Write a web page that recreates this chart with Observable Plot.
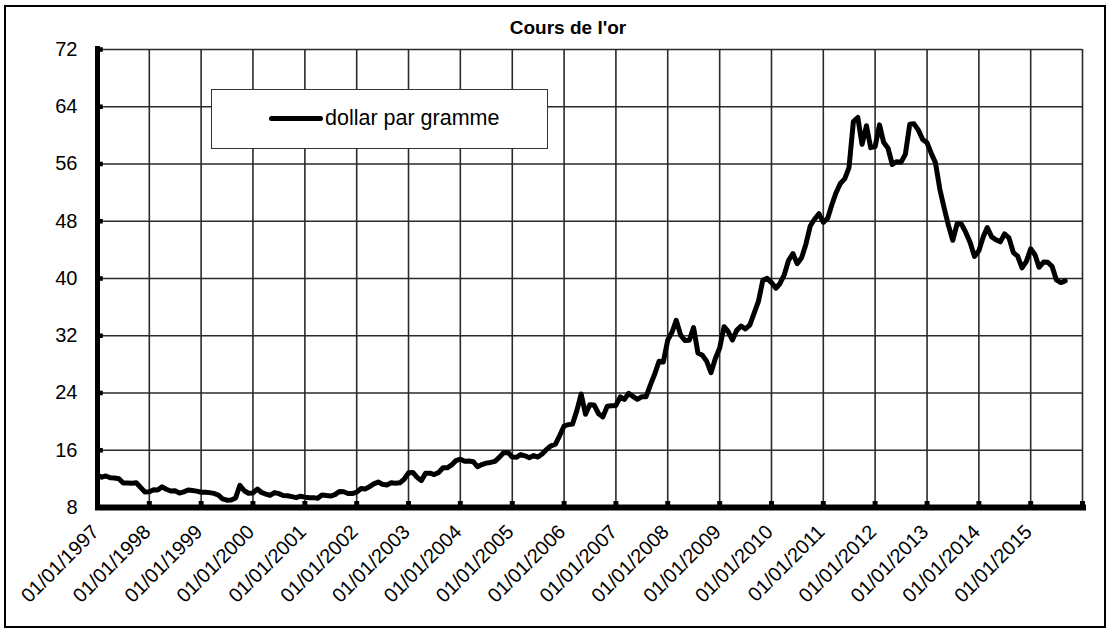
<!DOCTYPE html>
<html><head><meta charset="utf-8">
<script src="https://cdn.jsdelivr.net/npm/d3@7"></script>
<script src="https://cdn.jsdelivr.net/npm/@observablehq/plot@0.6"></script>
<style>
html,body{margin:0;padding:0;background:#fff;}
#page{position:relative;width:1113px;height:634px;overflow:hidden;}
#frame{position:absolute;left:4px;top:5px;width:1098px;height:619px;border:2px solid #000;}
#chart{position:absolute;left:0;top:0;}
#title{position:absolute;left:0;width:1136px;top:17px;text-align:center;font:bold 19px "Liberation Sans",Arial,sans-serif;line-height:22px;color:#000;}
#legend{position:absolute;left:211px;top:89px;width:337px;height:60px;background:#fff;border:1px solid #333;box-sizing:border-box;}
#legend .sw{position:absolute;left:57px;top:26px;width:54px;height:5px;background:#000;border-radius:2.5px;}
#legend .lb{position:absolute;left:113px;top:16px;font:21.5px "Liberation Sans",Arial,sans-serif;line-height:24px;color:#000;white-space:nowrap;}
</style>
</head>
<body>
<div id="page">
  <div id="chart"></div>
  <div id="frame"></div>
  <div id="title"></div>
  <div id="legend"><div class="sw"></div><div class="lb"></div></div>
</div>
<script>
// ---- data ----
const titleText = "Cours de l'or";
const seriesName = "dollar par gramme";
const firstMonth = [1997, 0]; // January 1997, one value per month
const dollarParGramme = [
  // 1997
  12.49, 12.23, 12.41, 12.15, 12.13, 12.02, 11.43, 11.43, 11.39, 11.46, 10.79, 10.18,
  // 1998
  10.20, 10.49, 10.44, 10.88, 10.55, 10.31, 10.33, 10.02, 10.19, 10.44, 10.37, 10.29,
  // 1999
  10.13, 10.13, 10.08, 9.97, 9.75, 9.22, 9.03, 9.05, 9.34, 11.10, 10.34, 9.99,
  // 2000
  10.03, 10.58, 10.10, 9.88, 9.71, 10.08, 9.93, 9.68, 9.65, 9.52, 9.38, 9.58,
  // 2001
  9.45, 9.35, 9.38, 9.30, 9.75, 9.68, 9.60, 9.80, 10.25, 10.20, 9.95, 9.95,
  // 2002
  10.15, 10.65, 10.60, 10.90, 11.30, 11.55, 11.25, 11.15, 11.45, 11.40, 11.45, 11.95,
  // 2003
  12.85, 12.90, 12.25, 11.75, 12.80, 12.80, 12.60, 12.90, 13.55, 13.55, 13.95, 14.55,
  // 2004
  14.75, 14.45, 14.50, 14.40, 13.70, 14.00, 14.20, 14.30, 14.45, 15.00, 15.65, 15.70,
  // 2005
  15.05, 15.02, 15.40, 15.22, 14.95, 15.25, 15.05, 15.50, 16.15, 16.62, 16.85, 18.05,
  // 2006
  19.40, 19.58, 19.65, 21.54, 23.86, 21.03, 22.35, 22.31, 21.10, 20.66, 22.14, 22.21,
  // 2007
  22.26, 23.45, 23.10, 23.96, 23.52, 23.12, 23.47, 23.47, 25.14, 26.62, 28.44, 28.33,
  // 2008
  31.38, 32.53, 34.16, 32.09, 31.35, 31.38, 33.15, 29.59, 29.27, 28.45, 26.84, 28.79,
  // 2009
  30.29, 33.27, 32.60, 31.40, 32.75, 33.36, 32.95, 33.49, 35.15, 36.80, 39.75, 40.02,
  // 2010
  39.43, 38.64, 39.27, 40.52, 42.52, 43.49, 42.08, 42.89, 44.83, 47.34, 48.32, 49.05,
  // 2011
  47.84, 48.42, 50.23, 51.99, 53.28, 53.92, 55.48, 61.93, 62.50, 58.74, 61.34, 58.28,
  // 2012
  58.42, 61.47, 59.04, 58.20, 55.93, 56.32, 56.24, 57.35, 61.55, 61.61, 60.73, 59.43,
  // 2013
  58.97, 57.41, 56.19, 52.48, 49.88, 47.39, 45.34, 47.68, 47.57, 46.44, 45.00, 43.09,
  // 2014
  43.89, 45.84, 47.13, 45.82, 45.41, 45.12, 46.23, 45.68, 43.62, 43.12, 41.49, 42.35,
  // 2015
  44.15, 43.28, 41.57, 42.29, 42.28, 41.68, 39.80, 39.43, 39.66
];
const yTicks = [8, 16, 24, 32, 40, 48, 56, 64, 72];
const labelYears = [1997,1998,1999,2000,2001,2002,2003,2004,2005,2006,2007,2008,2009,2010,2011,2012,2013,2014,2015];
const gridYears = [1998,1999,2000,2001,2002,2003,2004,2005,2006,2007,2008,2009,2010,2011,2012,2013,2014,2015,2016];
const xDomainYears = [1997, 2016];

// ---- build ----
const yearDate = y => new Date(Date.UTC(y, 0, 1));
const series = dollarParGramme.map((v, i) => ({
  date: new Date(Date.UTC(firstMonth[0], firstMonth[1] + i, 1)),
  value: v
}));
const fmt = d3.utcFormat("%d/%m/%Y");
const labelDates = labelYears.map(yearDate);
const gridDates = gridYears.map(yearDate);
const startDate = yearDate(xDomainYears[0]);

document.getElementById("title").textContent = titleText;
document.querySelector("#legend .lb").textContent = seriesName;

const chart = Plot.plot({
  width: 1113,
  height: 634,
  marginLeft: 97,
  marginRight: 31,
  marginTop: 49,
  marginBottom: 127,
  x: {type: "utc", domain: xDomainYears.map(yearDate), axis: null},
  y: {domain: [yTicks[0], yTicks[yTicks.length - 1]], axis: null},
  style: {fontFamily: "'Liberation Sans', Arial, sans-serif", fontSize: "20px", color: "#000", background: "transparent", overflow: "visible"},
  marks: [
    Plot.gridY(yTicks.slice(1), {stroke: "#2a2a2a", strokeOpacity: 1, strokeWidth: 1.6}),
    Plot.gridX(gridDates, {stroke: "#2a2a2a", strokeOpacity: 1, strokeWidth: 1.6}),
    Plot.text(yTicks, {x: startDate, y: d => d, text: d => String(d), textAnchor: "end", dx: -20, fontSize: 20, fill: "#000"}),
    Plot.text(labelDates, {x: d => d, y: yTicks[0], text: d => fmt(d), rotate: -45, textAnchor: "end", dx: -2, dy: 21, fontSize: 20, fill: "#000"}),
    Plot.line(series, {x: "date", y: "value", stroke: "#000", strokeWidth: 5, strokeLinejoin: "round", strokeLinecap: "round"}),
    Plot.ruleY([yTicks[0]], {stroke: "#000", strokeWidth: 6, insetLeft: -2, insetRight: -4}),
    Plot.ruleX([startDate], {stroke: "#000", strokeWidth: 5, insetTop: -3, insetBottom: -3}),
    Plot.dot(gridDates, {x: d => d, y: yTicks[0], symbol: "square", r: 2.8, fill: "#000", stroke: null, dy: -4}),
    Plot.dot(yTicks.slice(1), {x: startDate, y: d => d, symbol: "square", r: 2.6, fill: "#000", stroke: null, dx: 3})
  ]
});
document.getElementById("chart").appendChild(chart);
</script>
</body></html>
